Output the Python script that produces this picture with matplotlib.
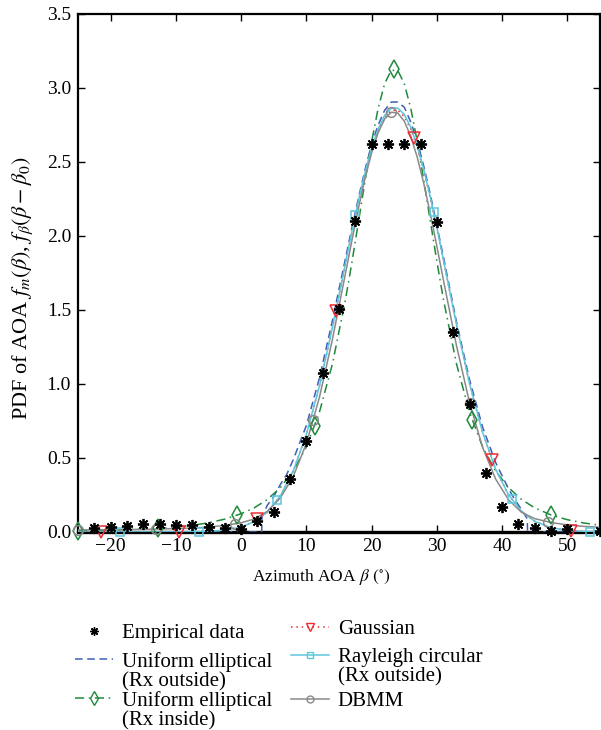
import matplotlib
matplotlib.use("Agg")
import matplotlib.pyplot as plt
from matplotlib.lines import Line2D

plt.rcParams['font.family'] = ['Liberation Serif', 'DejaVu Serif']
plt.rcParams['mathtext.fontset'] = 'stix'

# ---------------- data ----------------
# common angle grid for the model curves (deg)
ang = [-25, -22.5, -20, -17.5, -15, -12.5, -10, -7.5, -5, -2.5, 0, 2, 4, 6, 8, 10, 12, 14, 16,
       17, 18, 19, 20, 21, 22, 23, 24, 25, 26, 27, 28, 29, 30, 31, 33, 35, 37, 39, 41, 43, 45,
       47.5, 50, 52.5, 55]

rayleigh = [0, 0, 0, 0, 0, 0, 0.0003, 0.0013, 0.0042, 0.0125, 0.034, 0.070, 0.134, 0.243, 0.414,
            0.659, 0.986, 1.382, 1.818, 2.035, 2.242, 2.431, 2.594, 2.724, 2.815, 2.863, 2.865,
            2.822, 2.735, 2.609, 2.449, 2.262, 2.057, 1.840, 1.403, 1.004, 0.674, 0.424, 0.250,
            0.139, 0.072, 0.029, 0.011, 0.0035, 0.001]

gaussian = [0, 0, 0, 0, 0, 0, 0.0003, 0.0013, 0.0042, 0.0125, 0.034, 0.070, 0.134, 0.243, 0.414,
            0.659, 0.986, 1.380, 1.812, 2.028, 2.232, 2.420, 2.582, 2.710, 2.800, 2.848, 2.850,
            2.808, 2.722, 2.598, 2.440, 2.255, 2.052, 1.836, 1.401, 1.003, 0.674, 0.424, 0.250,
            0.139, 0.072, 0.029, 0.011, 0.0035, 0.001]

ue_inside = [0.009, 0.011, 0.013, 0.016, 0.019, 0.024, 0.033, 0.045, 0.062, 0.087, 0.1235, 0.163,
             0.219, 0.299, 0.412, 0.576, 0.810, 1.137, 1.572, 1.828, 2.100, 2.375, 2.637, 2.863,
             3.030, 3.119, 3.119, 3.030, 2.863, 2.637, 2.375, 2.100, 1.828, 1.572, 1.137, 0.810,
             0.576, 0.412, 0.299, 0.219, 0.163, 0.115, 0.083, 0.061, 0.046]

dbmm = [0.014, 0.015, 0.016, 0.017, 0.018, 0.020, 0.023, 0.027, 0.033, 0.045, 0.062, 0.088, 0.139,
        0.229, 0.376, 0.599, 0.910, 1.303, 1.749, 1.975, 2.192, 2.391, 2.562, 2.698, 2.791, 2.836,
        2.831, 2.776, 2.673, 2.531, 2.353, 2.150, 1.930, 1.703, 1.261, 0.875, 0.573, 0.358, 0.217,
        0.132, 0.090, 0.064, 0.048, 0.038, 0.032]

# uniform elliptical (Rx outside) has a bounded support
ue_out_ang = [-25, 3.15, 3.2, 4, 5, 6, 7, 8, 10, 12, 14, 16, 17, 18, 19, 20, 21, 22, 23, 24, 25,
              26, 27, 28, 29, 30, 31, 33, 35, 37, 39, 41, 42, 43, 43.5, 43.85, 43.9, 55]
ue_out = [0, 0, 0.10, 0.18, 0.24, 0.32, 0.39, 0.49, 0.72, 1.04, 1.43, 1.85, 2.06, 2.26, 2.45,
          2.62, 2.75, 2.85, 2.905, 2.905, 2.87, 2.77, 2.64, 2.47, 2.28, 2.07, 1.86, 1.42, 1.03,
          0.71, 0.47, 0.29, 0.215, 0.15, 0.115, 0.09, 0, 0]

# marker positions of the model curves
ue_in_mk_x = [-25, -12.7, -0.7, 11.3, 23.5, 35.4, 47.5]
ue_in_mk_y = [0.009, 0.024, 0.112, 0.719, 3.13, 0.756, 0.115]
gauss_mk_x = [-21.5, -9.5, 2.5, 14.5, 26.5, 38.5, 50.5]
gauss_mk_y = [0, 0.0005, 0.086, 1.49, 2.66, 0.487, 0.009]
ray_mk_x = [-18.5, -6.5, 5.5, 17.5, 29.5, 41.5, 53.5]
ray_mk_y = [0, 0.002, 0.216, 2.14, 2.16, 0.222, 0.002]
dbmm_mk_x = [-25, -13, -1, 11, 23, 35, 47]
dbmm_mk_y = [0.014, 0.020, 0.055, 0.755, 2.836, 0.875, 0.068]

# empirical data
emp_x = [-22.5, -20, -17.5, -15, -12.5, -10, -7.5, -5, -2.5, 0, 2.5, 5, 7.5, 10, 12.5, 15, 17.5,
         20, 22.5, 25, 27.5, 30, 32.5, 35, 37.5, 40, 42.5, 45, 47.5, 50, 55]
emp_y = [0.025, 0.032, 0.043, 0.052, 0.054, 0.049, 0.047, 0.036, 0.025, 0.020, 0.074, 0.133,
         0.356, 0.617, 1.076, 1.505, 2.10, 2.62, 2.62, 2.62, 2.62, 2.097, 1.349, 0.865, 0.396,
         0.167, 0.052, 0.029, 0.009, 0.022, 0.009]

x_ticks = [-20, -10, 0, 10, 20, 30, 40, 50]
y_ticks = [0.0, 0.5, 1.0, 1.5, 2.0, 2.5, 3.0, 3.5]

labels = ["Empirical data", "Uniform elliptical\n(Rx outside)", "Uniform elliptical\n(Rx inside)",
          "Gaussian", "Rayleigh circular\n(Rx outside)", "DBMM"]

# ---------------- style ----------------
c_blue = '#3d5fb8'
c_green = '#1f8a3c'
c_red = '#ee2b30'
c_cyan = '#5cc8dc'
c_gray = '#8a8a8a'
lw = 1.1
star = (8, 2, 0)

fig = plt.figure(figsize=(6.01, 7.30), dpi=100)
ax = fig.add_axes([78 / 601, 1 - 532 / 730, 522 / 601, 518 / 730])

ax.plot(ue_out_ang, ue_out, color=c_blue, lw=lw, ls=(0, (5, 3)), zorder=3)
ax.plot(ang, ue_inside, color=c_green, lw=lw, ls=(0, (6, 3, 1, 3)), zorder=3)
ax.plot(ue_in_mk_x, ue_in_mk_y, ls='none', marker='d', ms=9, mfc='none', mec=c_green, mew=1.1,
        zorder=4, clip_on=False)
ax.plot(ang, gaussian, color=c_red, lw=lw, ls=(0, (1, 2.5)), zorder=3)
ax.plot(gauss_mk_x, gauss_mk_y, ls='none', marker='v', ms=8, mfc='none', mec=c_red, mew=1.1,
        zorder=4, clip_on=False)
ax.plot(ang, rayleigh, color=c_cyan, lw=lw, zorder=3)
ax.plot(ray_mk_x, ray_mk_y, ls='none', marker='s', ms=6, mfc='none', mec=c_cyan, mew=1.1,
        zorder=4, clip_on=False)
ax.plot(ang, dbmm, color=c_gray, lw=lw, zorder=3)
ax.plot(dbmm_mk_x, dbmm_mk_y, ls='none', marker='o', ms=7, mfc='none', mec=c_gray, mew=1.1,
        zorder=4, clip_on=False)
ax.plot(emp_x, emp_y, ls='none', marker=star, ms=8, mec='black', mew=1.3, zorder=5,
        clip_on=False)

ax.set_xlim(-25, 55)
ax.set_ylim(0, 3.5)
ax.set_xticks(x_ticks)
ax.set_yticks(y_ticks)
ax.set_yticklabels([f"{v:.1f}" for v in y_ticks])
ax.tick_params(direction='in', top=True, right=True, length=5, width=1, labelsize=14,
               colors='black')
ax.tick_params(axis='y', pad=5)
ax.tick_params(axis='x', pad=4)
for s in ax.spines.values():
    s.set_linewidth(1.6)
ax.spines['bottom'].set_linewidth(2.4)

ax.set_xlabel(r"Azimuth AOA $\beta$ $(^{\circ})$", fontsize=12.5)
ax.set_ylabel(r"PDF of AOA $f_m(\beta)$, $f_\beta(\beta-\beta_0)$", fontsize=16)
ax.xaxis.set_label_coords(0.465, -0.068)
ax.yaxis.set_label_coords(-0.083, 0.471)

# ---------------- legend (one entry per box, handle on the first text line) ----------------
handles = [
    Line2D([], [], ls='none', marker=star, ms=6, mec='black', mew=1.0),
    Line2D([], [], color=c_blue, lw=lw, ls=(0, (5, 3))),
    Line2D([], [], color=c_green, lw=lw, ls=(0, (6, 3, 1, 3)), marker='d', ms=7, mfc='none',
           mec=c_green),
    Line2D([], [], color=c_red, lw=lw, ls=(0, (1, 2.5)), marker='v', ms=6, mfc='none', mec=c_red),
    Line2D([], [], color=c_cyan, lw=lw, marker='s', ms=5, mfc='none', mec=c_cyan),
    Line2D([], [], color=c_gray, lw=lw, marker='o', ms=5, mfc='none', mec=c_gray),
]
# (left x, first-line centre y) in figure pixels
slots = [(75, 632), (75, 660), (75, 699), (291, 628), (291, 656), (291, 700)]
for h, lab, (px, py) in zip(handles, labels, slots):
    leg = fig.legend([h], [lab], loc='upper left', bbox_to_anchor=(px / 601, 1 - (py - 8) / 730),
                     frameon=False, fontsize=15, handlelength=1.8, handletextpad=0.45,
                     borderpad=0, borderaxespad=0)
    for t in leg.get_texts():
        t.set_linespacing(1.0)
    for col in leg._legend_handle_box.get_children():
        for row in col.get_children():
            row.align = 'top'

fig.savefig("out.png", dpi=100)
